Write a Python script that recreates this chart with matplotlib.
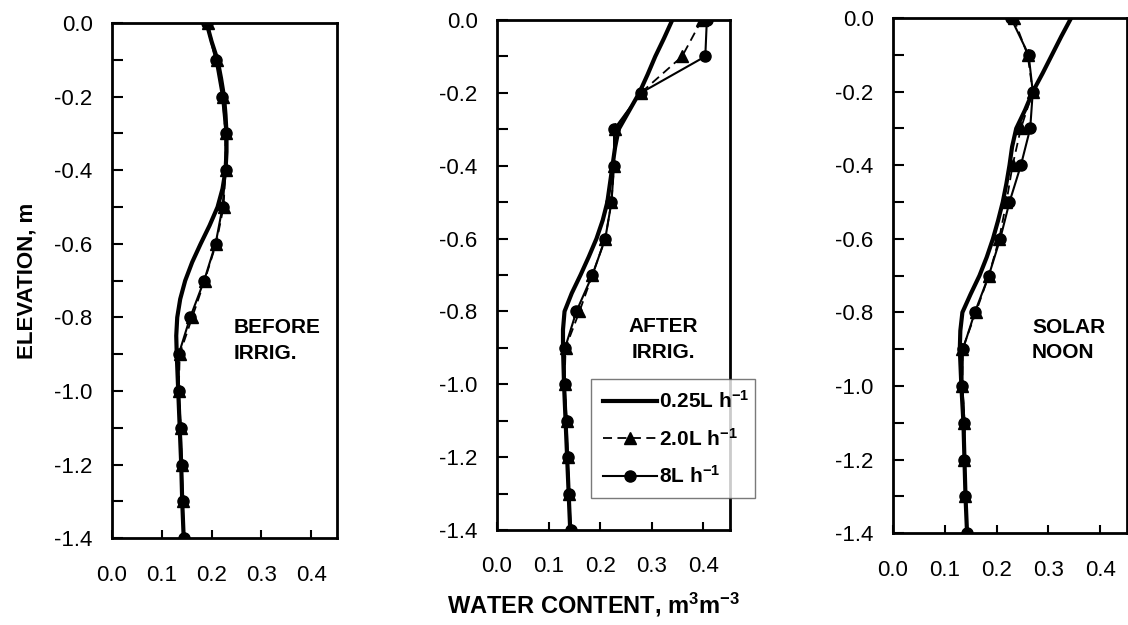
import matplotlib

matplotlib.use("Agg")
import matplotlib.pyplot as plt
from matplotlib.ticker import MultipleLocator, FormatStrFormatter

plt.rcParams["font.family"] = ["Liberation Sans", "DejaVu Sans"]
plt.rcParams["mathtext.fontset"] = "custom"
plt.rcParams["mathtext.rm"] = "Liberation Sans:bold"
plt.rcParams["mathtext.default"] = "rm"

# depth of each measured reading, m
elev = [0.0, -0.1, -0.2, -0.3, -0.4, -0.5, -0.6, -0.7,
        -0.8, -0.9, -1.0, -1.1, -1.2, -1.3, -1.4]
# the 0.25 L/h curve is drawn smooth, so it is read at a finer step
elev_smooth = [0.0, -0.05, -0.1, -0.15, -0.2, -0.25, -0.3, -0.35, -0.4,
               -0.45, -0.5, -0.55, -0.6, -0.65, -0.7, -0.75, -0.8, -0.85,
               -0.9, -1.0, -1.1, -1.2, -1.3, -1.4]

# water content, m3/m3, one array per emitter rate and panel
before_025 = [0.190, 0.200, 0.212, 0.219, 0.225, 0.228, 0.230, 0.230, 0.228,
              0.222, 0.212, 0.196, 0.178, 0.161, 0.147, 0.137, 0.131, 0.129,
              0.130, 0.133, 0.136, 0.139, 0.141, 0.144]
before_20 = [0.192, 0.210, 0.222, 0.228, 0.228, 0.224, 0.209, 0.186,
             0.161, 0.136, 0.134, 0.138, 0.140, 0.142, 0.144]
before_8 = [0.190, 0.208, 0.221, 0.228, 0.228, 0.222, 0.208, 0.185,
            0.157, 0.134, 0.134, 0.138, 0.140, 0.142, 0.144]

after_025 = [0.340, 0.324, 0.307, 0.292, 0.276, 0.256, 0.236, 0.229, 0.224,
             0.219, 0.214, 0.205, 0.193, 0.178, 0.162, 0.145, 0.131, 0.128,
             0.128, 0.130, 0.133, 0.136, 0.139, 0.142]
after_20 = [0.397, 0.359, 0.279, 0.228, 0.227, 0.222, 0.210, 0.185,
            0.160, 0.133, 0.131, 0.135, 0.137, 0.140, 0.143]
after_8 = [0.407, 0.404, 0.279, 0.227, 0.227, 0.222, 0.210, 0.185,
           0.154, 0.132, 0.131, 0.135, 0.137, 0.140, 0.143]

noon_025 = [0.344, 0.325, 0.307, 0.289, 0.270, 0.255, 0.238, 0.230, 0.225,
            0.219, 0.212, 0.203, 0.193, 0.181, 0.167, 0.150, 0.134, 0.130,
            0.129, 0.132, 0.136, 0.138, 0.140, 0.143]
noon_20 = [0.233, 0.260, 0.270, 0.247, 0.231, 0.219, 0.205, 0.185,
           0.160, 0.134, 0.134, 0.138, 0.138, 0.140, 0.143]
noon_8 = [0.228, 0.262, 0.270, 0.265, 0.247, 0.225, 0.207, 0.185,
          0.158, 0.135, 0.134, 0.138, 0.138, 0.140, 0.143]

rate_labels = ["0.25L h$^{-1}$", "2.0L h$^{-1}$", "8L h$^{-1}$"]
panel_titles = ["BEFORE\nIRRIG.", "AFTER\nIRRIG.", "SOLAR\nNOON"]
panels = [
    (before_025, before_20, before_8),
    (after_025, after_20, after_8),
    (noon_025, noon_20, noon_8),
]

# axes boxes in figure fractions
boxes = [
    [0.0993, 0.139, 0.1995, 0.824],
    [0.4406, 0.152, 0.2066, 0.816],
    [0.7917, 0.147, 0.2074, 0.824],
]
text_pos = [(0.54, 0.384, "left"), (0.712, 0.373, "center"), (0.594, 0.375, "left")]

fig = plt.figure(figsize=(11.28, 6.25), dpi=100)

axes = []
for i, (box, (w025, w20, w8)) in enumerate(zip(boxes, panels)):
    ax = fig.add_axes(box)
    ax.plot(w025, elev_smooth, color="black", lw=3.0, zorder=3,
            label=rate_labels[0])
    ax.plot(w20, elev, color="black", lw=1.3, ls=(0, (5, 3)), marker="^",
            ms=8, zorder=4, label=rate_labels[1])
    ax.plot(w8, elev, color="black", lw=1.5, marker="o", ms=8, zorder=5,
            label=rate_labels[2])

    ax.set_xlim(0, 0.452)
    ax.set_ylim(-1.4, 0.0)
    ax.xaxis.set_major_locator(MultipleLocator(0.1))
    ax.xaxis.set_major_formatter(FormatStrFormatter("%.1f"))
    ax.yaxis.set_major_locator(MultipleLocator(0.2))
    ax.yaxis.set_minor_locator(MultipleLocator(0.1))
    ax.yaxis.set_major_formatter(FormatStrFormatter("%.1f"))
    ax.tick_params(axis="both", which="both", direction="in", width=1.5,
                   labelsize=16, top=False, right=False)
    ax.tick_params(axis="y", which="both", length=8, pad=14)
    ax.tick_params(axis="x", which="major", length=6, pad=19)
    for sp in ax.spines.values():
        sp.set_linewidth(2)
    for sp in ("bottom", "left"):
        ax.spines[sp].set_zorder(6)

    tx, ty, ha = text_pos[i]
    ax.text(tx, ty, panel_titles[i], transform=ax.transAxes, ha=ha, va="center",
            fontsize=15, fontweight="bold", linespacing=1.45)
    axes.append(ax)

axes[0].set_ylabel("ELEVATION, m", fontsize=16, fontweight="bold", labelpad=12)
fig.text(0.526, 0.032, "WATER CONTENT, m$^3$m$^{-3}$", ha="center", va="center",
         fontsize=17, fontweight="bold")

leg = axes[1].legend(loc="lower left", bbox_to_anchor=(0.405, 0.062, 0.70, 0.246),
                     mode="expand", prop={"size": 15, "weight": "bold"},
                     frameon=True, fancybox=False, handlelength=2.6,
                     handletextpad=0.1, labelspacing=0.75, borderaxespad=0,
                     borderpad=0.55)
leg.get_frame().set_edgecolor("0.35")
leg.get_frame().set_linewidth(1.0)
leg.set_zorder(10)

fig.savefig("out.png", dpi=100)
plt.close(fig)
